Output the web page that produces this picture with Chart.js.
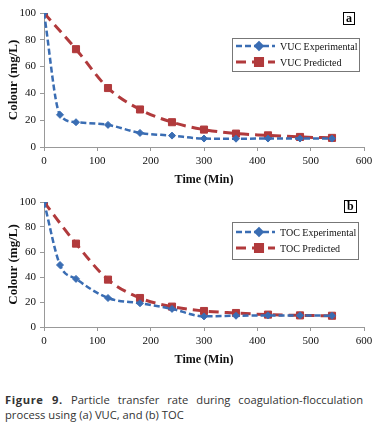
<!DOCTYPE html>
<html>
<head>
<meta charset="utf-8">
<script src="https://cdn.jsdelivr.net/npm/chart.js@4/dist/chart.umd.min.js"></script>
<style>
  body { margin: 0; background: #fff; width: 384px; height: 427px; position: relative; overflow: hidden; }
  .panel { position: absolute; left: 0; width: 384px; }
  .tag { position: absolute; font: bold 12px "Liberation Serif", serif; border: 1px solid #000; line-height: 11px; padding: 0 2px; background: #fff; }
  #caption { position: absolute; left: 5px; top: 392px; width: 358px; font: 11.2px "Open Sans", sans-serif; color: #333; text-align: justify; text-align-last: left; line-height: 15px; }
  #caption b { letter-spacing: 0.6px; }
</style>
</head>
<body>
<div class="panel" style="top:0;height:190px"><canvas id="chartA"></canvas></div>
<div class="panel" style="top:190px;height:180px"><canvas id="chartB"></canvas></div>
<div class="tag" style="left:343px;top:12px">a</div>
<div class="tag" style="left:344px;top:200px">b</div>
<div id="caption"><b>Figure 9.</b> Particle transfer rate during coagulation-flocculation process using (a) VUC, and (b) TOC</div>
<script>
// ── Figure 9 data ──
const timeMin = [0, 30, 60, 120, 180, 240, 300, 360, 420, 480, 540];
const predTime = [0, 60, 120, 180, 240, 300, 360, 420, 480, 540];

const vucExperimental = [100, 24, 18.5, 16.5, 10.5, 8.5, 6.3, 6.2, 6.3, 6.3, 6.3];
const vucPredicted    = [100, 73, 44, 28, 18.5, 13, 10, 8.7, 7.5, 6.8];

const tocExperimental = [100, 49.6, 38.5, 23.2, 19, 14.5, 8.5, 9, 9.3, 9.3, 9];
const tocPredicted    = [100, 66.7, 37.9, 23.2, 16.3, 12.8, 11.2, 9.9, 9.3, 9];

const xTicks = [0, 100, 200, 300, 400, 500, 600];
const yTicks = [0, 20, 40, 60, 80, 100];

const BLUE = '#3A6DB3';
const RED  = '#B13A3C';
const SERIF = '"Liberation Serif", "Times New Roman", serif';

// boxed legend drawn inside the plot, like the Excel original
const boxLegend = {
  id: 'boxLegend',
  afterDraw(chart, args, o) {
    const ctx = chart.ctx;
    ctx.save();
    ctx.strokeStyle = '#777';
    ctx.lineWidth = 1;
    ctx.strokeRect(o.x + 0.5, o.y + 0.5, o.w, o.h);
    chart.data.datasets.forEach((ds, i) => {
      const cy = o.y + o.pad + i * o.rowH;
      ctx.beginPath();
      ctx.setLineDash(ds.borderDash);
      ctx.lineWidth = ds.borderWidth;
      ctx.strokeStyle = ds.borderColor;
      ctx.moveTo(o.x + 4, cy);
      ctx.lineTo(o.x + 43, cy);
      ctx.stroke();
      ctx.setLineDash([]);
      Chart.helpers.drawPoint(ctx, {
        pointStyle: ds.pointStyle, radius: ds.pointRadius, borderWidth: 1
      }, o.x + 27, cy);
      ctx.fillStyle = ds.backgroundColor;
      ctx.strokeStyle = ds.borderColor;
      ctx.fill();
      ctx.fillStyle = '#111';
      ctx.font = '10px ' + SERIF;
      ctx.textBaseline = 'middle';
      ctx.fillText(ds.label, o.x + 48, cy + 1);
    });
    ctx.restore();
  }
};

function makeChart(canvasId, height, padTop, expData, predData, prefix, legendPos) {
  const canvas = document.getElementById(canvasId);
  canvas.parentNode.style.height = height + 'px';
  const pts = (xs, ys) => ys.map((y, i) => ({ x: xs[i], y }));
  return new Chart(canvas, {
    type: 'scatter',
    data: {
      datasets: [
        {
          label: prefix + ' Experimental',
          data: pts(timeMin, expData),
          borderColor: BLUE, backgroundColor: BLUE,
          borderWidth: 2.5, borderDash: [6, 3],
          pointStyle: 'rectRot', pointRadius: 3.5, pointBorderWidth: 1,
          showLine: true, cubicInterpolationMode: 'monotone'
        },
        {
          label: prefix + ' Predicted',
          data: pts(predTime, predData),
          borderColor: RED, backgroundColor: RED,
          borderWidth: 3, borderDash: [10, 6],
          pointStyle: 'rect', pointRadius: 5, pointBorderWidth: 1,
          showLine: true, cubicInterpolationMode: 'monotone'
        }
      ]
    },
    options: {
      responsive: true,
      maintainAspectRatio: false,
      animation: false,
      layout: { padding: { top: padTop, right: 20, left: 0, bottom: 0 } },
      plugins: {
        legend: { display: false },
        tooltip: { enabled: false },
        boxLegend: legendPos
      },
      scales: {
        x: {
          type: 'linear', min: 0, max: 600,
          afterFit: s => { s.height = 43; },
          afterBuildTicks: s => { s.ticks = xTicks.map(v => ({ value: v })); },
          ticks: { color: '#111', font: { size: 11, family: SERIF }, padding: 4, maxRotation: 0 },
          grid: { display: true, drawOnChartArea: false, drawTicks: true, tickLength: 4, color: '#999' },
          border: { color: '#999' },
          title: { display: true, text: 'Time (Min)', color: '#111', font: { size: 12, weight: 'bold', family: SERIF }, padding: { top: 0, bottom: 3 } }
        },
        y: {
          type: 'linear', min: 0, max: 100,
          afterFit: s => { s.width = 44; },
          afterBuildTicks: s => { s.ticks = yTicks.map(v => ({ value: v })); },
          ticks: { color: '#111', font: { size: 11, family: SERIF }, padding: 4 },
          grid: { display: true, drawOnChartArea: false, drawTicks: true, tickLength: 4, color: '#999' },
          border: { color: '#999' },
          title: { display: true, text: 'Colour (mg/L)', color: '#111', font: { size: 13, weight: 'bold', family: SERIF }, padding: { top: 6, bottom: 0 } }
        }
      }
    },
    plugins: [boxLegend]
  });
}

makeChart('chartA', 190, 13, vucExperimental, vucPredicted, 'VUC',
  { x: 232, y: 38, w: 127, h: 33, pad: 8, rowH: 16 });
makeChart('chartB', 180, 12, tocExperimental, tocPredicted, 'TOC',
  { x: 232, y: 32, w: 126, h: 37, pad: 10, rowH: 16 });
</script>
</body>
</html>
